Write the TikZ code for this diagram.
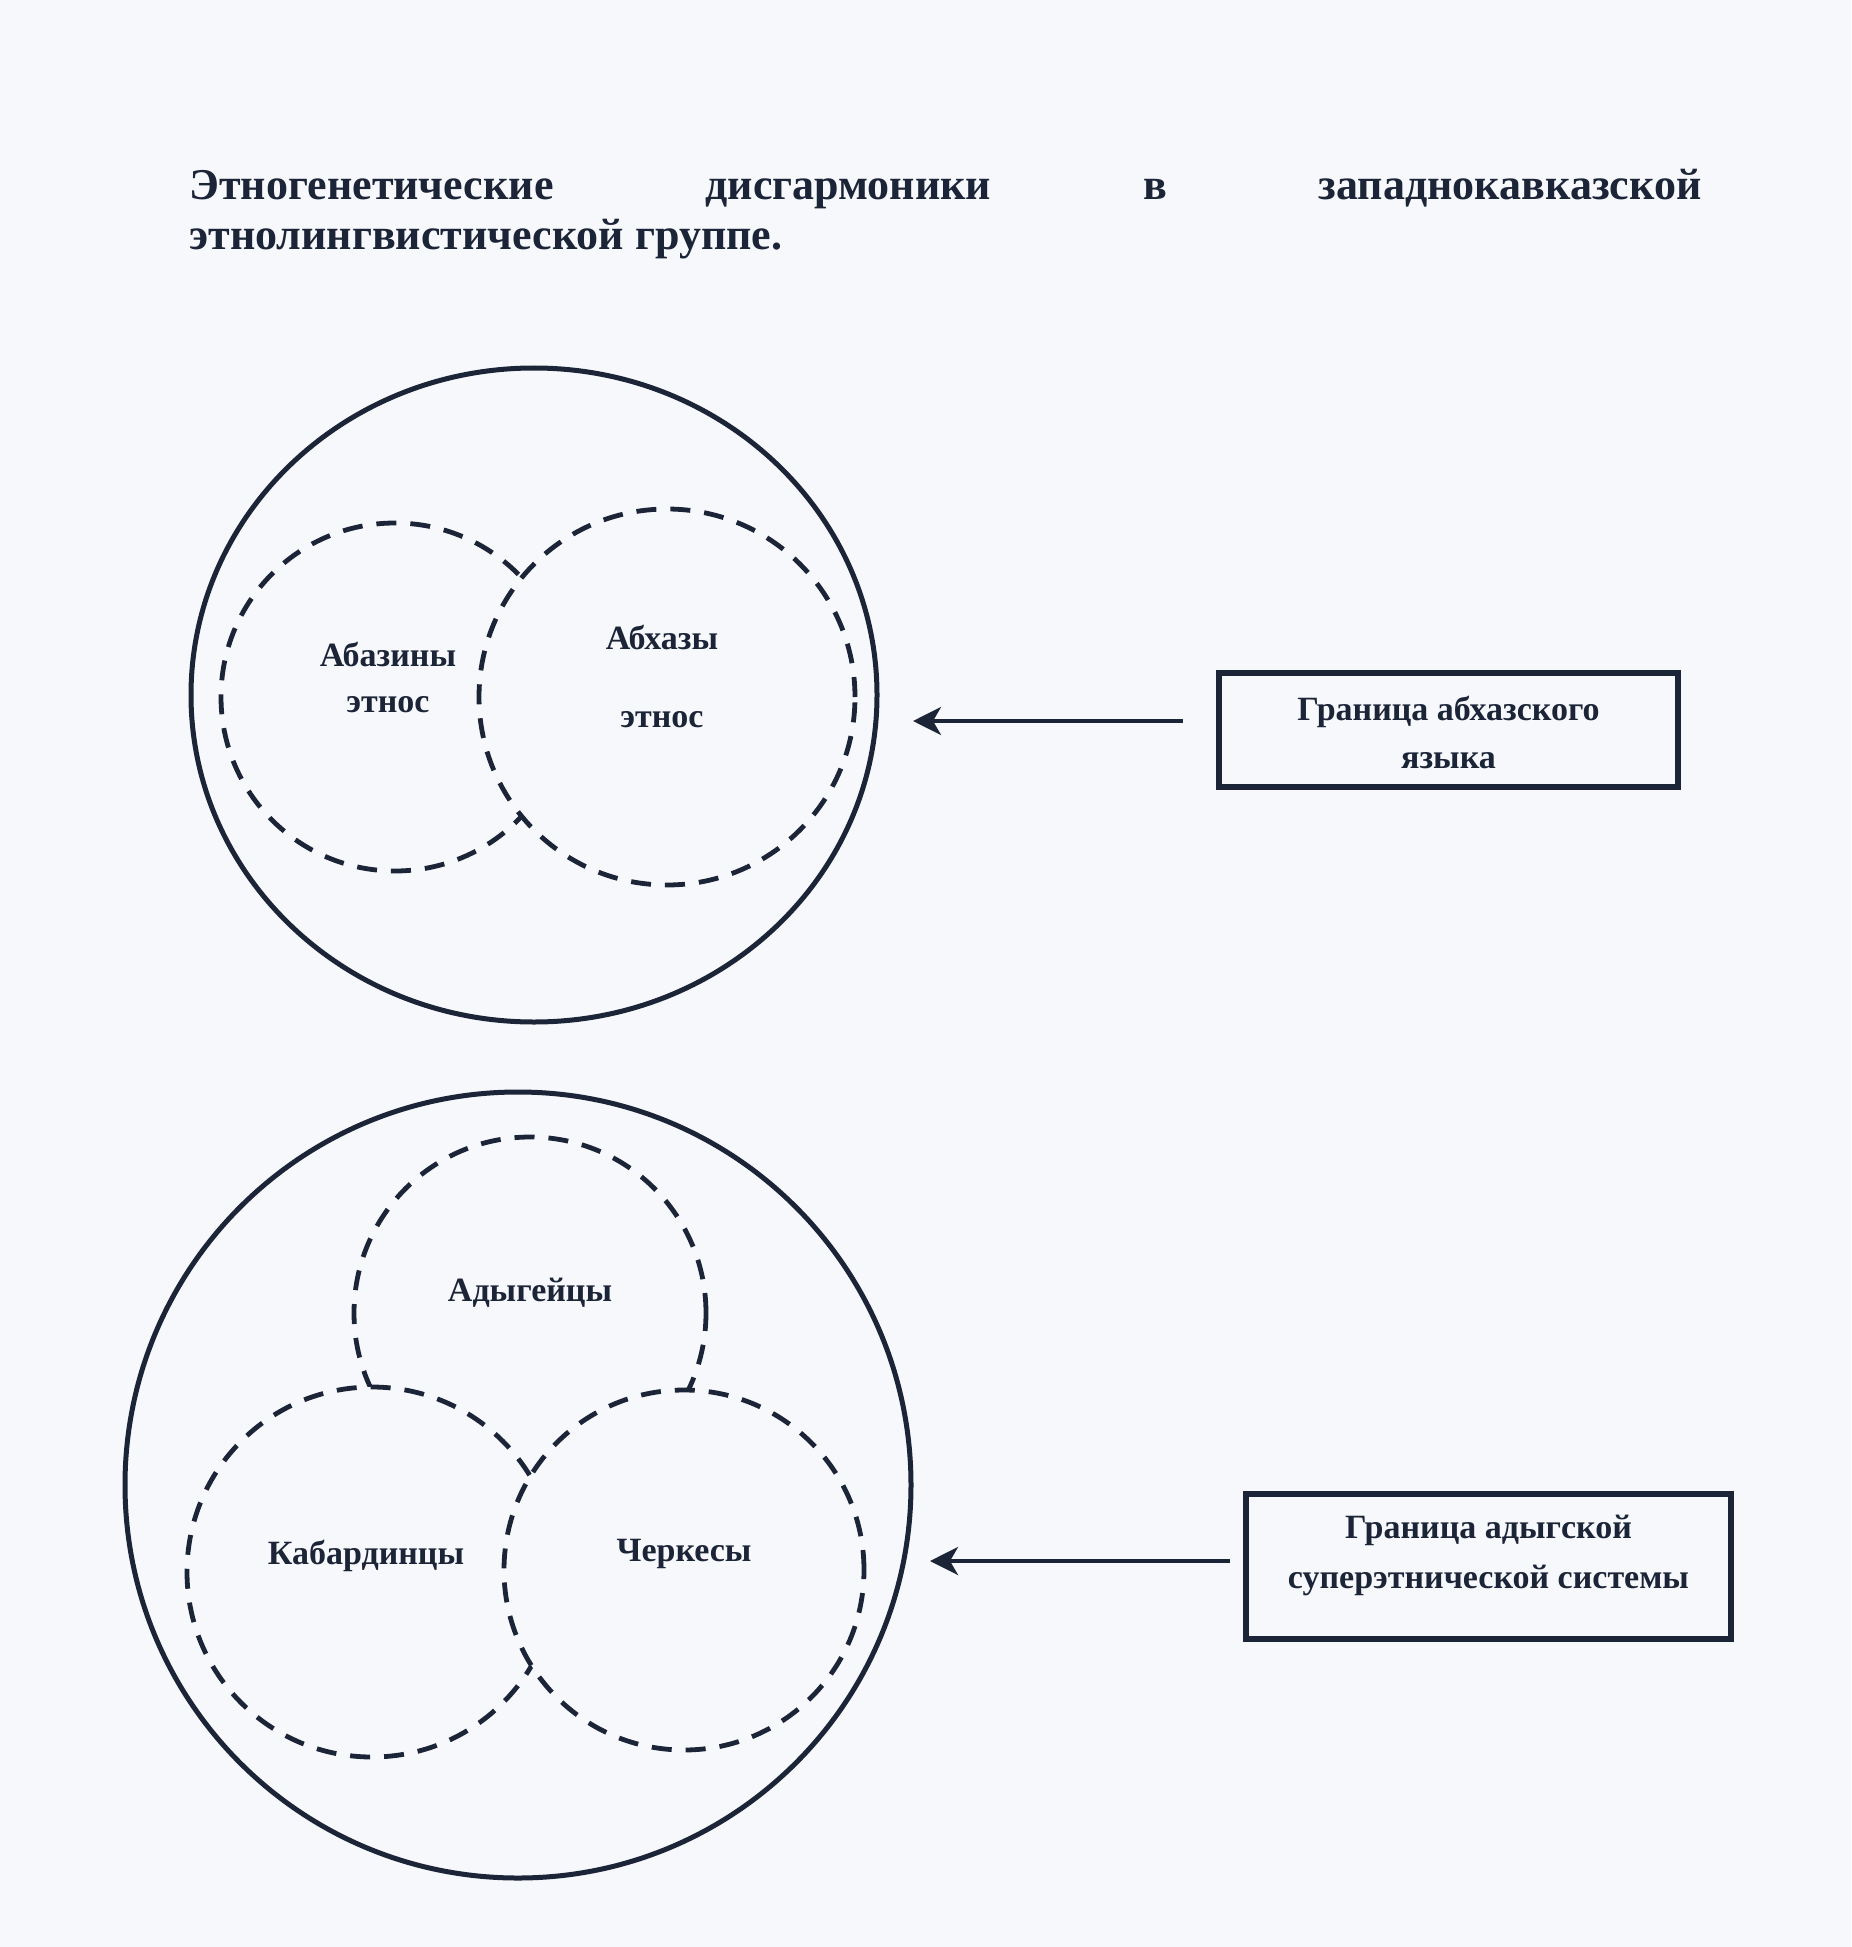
\documentclass[tikz,border=0pt]{standalone}
\usepackage{fontspec}
\setmainfont{Liberation Serif}
\usetikzlibrary{arrows.meta,shapes.geometric}
\definecolor{ink}{rgb}{0.11,0.14,0.22}
\definecolor{paper}{rgb}{0.965,0.972,0.99}
\begin{document}
\begin{tikzpicture}[x=0.5pt,y=-0.5pt,
  outer/.style={draw=ink,line width=2.5pt,inner sep=0pt},
  ethnos/.style={draw=ink,line width=2.4pt,dash pattern=on 10pt off 7pt,fill=paper,circle,inner sep=0pt},
  lbl/.style={font=\fontsize{17}{21}\selectfont\bfseries,text=ink,align=center,inner sep=0pt},
  titlefont/.style={font=\fontsize{22}{26}\selectfont\bfseries,text=ink,inner sep=0pt},
  framebox/.style={draw=ink,line width=3pt,inner sep=0pt},
  pointer/.style={draw=ink,line width=2pt,-{Stealth[length=14pt,width=14pt,inset=4pt]}}]
\fill[paper] (0,0) rectangle (1851,1947);
\useasboundingbox (0,0) rectangle (1851,1947);

% title
\node[titlefont,anchor=base west] (t1) at (189,200)
  {\hbox to 756pt{Этногенетические\hfill дисгармоники\hfill в\hfill западнокавказской}};
\node[titlefont,anchor=base west] (t2) at (189,250) {этнолингвистической группе.};

% top group
\node[outer,ellipse,minimum width=343pt,minimum height=327pt] (big1) at (534,695) {};
\node[ethnos,minimum size=174pt] (abaz) at (395,697) {};
\node[ethnos,minimum size=188pt] (abkh) at (667,697) {};
\node[lbl] (labaz) at (388,677) {Абазины\\[2pt]этнос};
\node[lbl] (labkh) at (662,676) {Абхазы\\[18pt]этнос};

\node[framebox,minimum width=229.5pt,minimum height=57pt] (box1) at (1448.5,730) {};
\node[lbl] (tbox1) at (1448.5,732) {Граница абхазского\\[3pt]языка};
\coordinate (a1s) at (1183,721);
\coordinate (a1e) at (913,721);
\draw[pointer] (a1s) -- (a1e);

% bottom group
\node[outer,circle,minimum size=393pt] (big2) at (518,1485) {};
\node[ethnos,minimum size=176pt] (adyg) at (530,1313) {};
\node[ethnos,minimum size=185pt] (kab) at (372,1572) {};
\node[ethnos,minimum size=180pt] (cherk) at (684,1570) {};
\node[lbl] (ladyg) at (530,1293) {Адыгейцы};
\node[lbl] (lkab) at (366,1556) {Кабардинцы};
\node[lbl] (lcherk) at (684,1554) {Черкесы};

\node[framebox,minimum width=242.5pt,minimum height=72.5pt] (box2) at (1488.5,1566.5) {};
\node[lbl] (tbox2) at (1488.5,1555) {Граница адыгской\\[4pt]суперэтнической системы};
\coordinate (a2s) at (1230,1561);
\coordinate (a2e) at (930,1561);
\draw[pointer] (a2s) -- (a2e);
\end{tikzpicture}
\end{document}
